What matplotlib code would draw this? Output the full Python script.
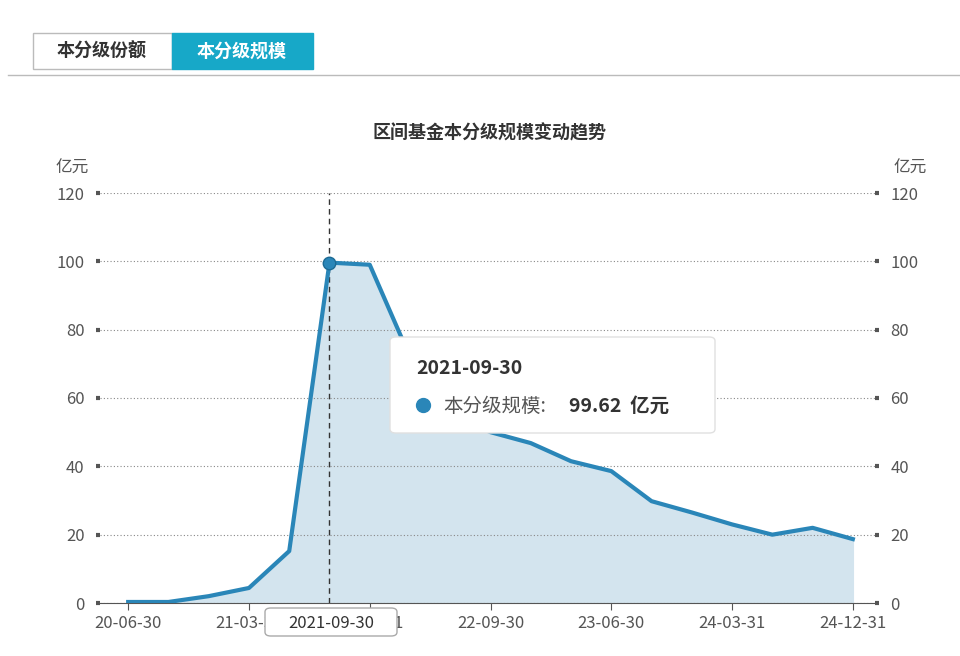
import matplotlib
matplotlib.use("Agg")
import matplotlib.pyplot as plt
from matplotlib.patches import FancyBboxPatch, Rectangle
from matplotlib.lines import Line2D

plt.rcParams['font.family'] = ['Noto Sans CJK SC', 'DejaVu Sans']

dates = ["20-06-30","20-09-30","20-12-31","21-03-31","21-06-30","21-09-30","21-12-31",
         "22-03-31","22-06-30","22-09-30","22-12-31","23-03-31","23-06-30","23-09-30",
         "23-12-31","24-03-31","24-06-30","24-09-30","24-12-31"]
values = [0.3,0.3,2.0,4.4,15.2,99.62,99.0,72.0,55.0,50.0,46.8,41.5,38.6,29.8,26.5,23.0,20.0,22.0,18.7]
yticks = [0,20,40,60,80,100,120]

W, H = 960, 656
fig = plt.figure(figsize=(9.6,6.56), dpi=100)
ax = fig.add_axes([100/W, 1-603/H, 775/W, 410/H])
twin = ax.twinx()
x = list(range(len(dates)))
lc = '#2a86b8'
ax.fill_between(x, values, color='#d3e4ee', zorder=1)
ax.plot(x, values, color=lc, lw=3, zorder=3)
hi = 5
ax.axvline(hi, color='#333333', lw=1, ls=(0,(4,3)), zorder=2)
ax.plot([hi],[values[hi]], 'o', ms=9, color=lc, mec='#1c6a94', zorder=4)
ax.set_xlim(-0.7, 18.55)
for a in (ax, twin):
    a.set_ylim(0,120)
    a.set_yticks(yticks)
    for s in a.spines.values(): s.set_visible(False)
    a.tick_params(axis='y', length=3, width=3, color='#555555', labelcolor='#555555', labelsize=12, pad=8)
ax.spines['bottom'].set_visible(True)
ax.spines['bottom'].set_color('#555555')
ax.set_xticks(x[::3])
ax.set_xticklabels(dates[::3])
ax.tick_params(axis='x', length=5, color='#555555', labelcolor='#555555', labelsize=12)
ax.grid(axis='y', ls=(0,(1,2)), color='#888888', lw=0.8)
ax.set_zorder(2); twin.set_zorder(1); ax.patch.set_visible(False)

def px(xp, yp): return xp/W, 1-yp/H
fig.text(*px(490,133), '区间基金本分级规模变动趋势', ha='center', va='center', fontsize=13, weight='bold', color='#333333')
fig.text(*px(72,168), '亿元', ha='center', va='center', fontsize=12, color='#555555')
fig.text(*px(910,168), '亿元', ha='center', va='center', fontsize=12, color='#555555')

# tabs
fig.add_artist(Line2D([8/W, 1], [1-75/H]*2, color='#bbbbbb', lw=1))
fig.add_artist(Rectangle(px(33,69), 139/W, 36/H, facecolor='white', edgecolor='#bbbbbb', lw=1))
fig.add_artist(Rectangle(px(172,69), 141/W, 36/H, facecolor='#17a8c8', edgecolor='#17a8c8', lw=1))
fig.text(*px(102,51), '本分级份额', ha='center', va='center', fontsize=13, weight='bold', color='#333333')
fig.text(*px(242,51), '本分级规模', ha='center', va='center', fontsize=13, weight='bold', color='white')

# tooltip
fig.add_artist(FancyBboxPatch(px(390,433), 325/W, 96/H, boxstyle='round,pad=0,rounding_size=0.006',
               facecolor='white', edgecolor='#e0e0e0', lw=1, zorder=10))
fig.text(*px(416,369), '2021-09-30', ha='left', va='center', fontsize=14, weight='bold', color='#333333', zorder=11)
fig.add_artist(Line2D([423/W],[1-405/H], marker='o', ms=10, color=lc, zorder=11))
fig.text(*px(443,406), '本分级规模:', ha='left', va='center', fontsize=14, color='#555555', zorder=11)
fig.text(*px(569,406), '99.62  亿元', ha='left', va='center', fontsize=14, weight='bold', color='#333333', zorder=11)

# axis pointer label
fig.add_artist(FancyBboxPatch(px(265,636), 132/W, 28/H, boxstyle='round,pad=0,rounding_size=0.006',
               facecolor='white', edgecolor='#aaaaaa', lw=1, zorder=10))
fig.text(*px(331,623), '2021-09-30', ha='center', va='center', fontsize=12, color='#333333', zorder=11)

fig.savefig('out.png', dpi=100)
